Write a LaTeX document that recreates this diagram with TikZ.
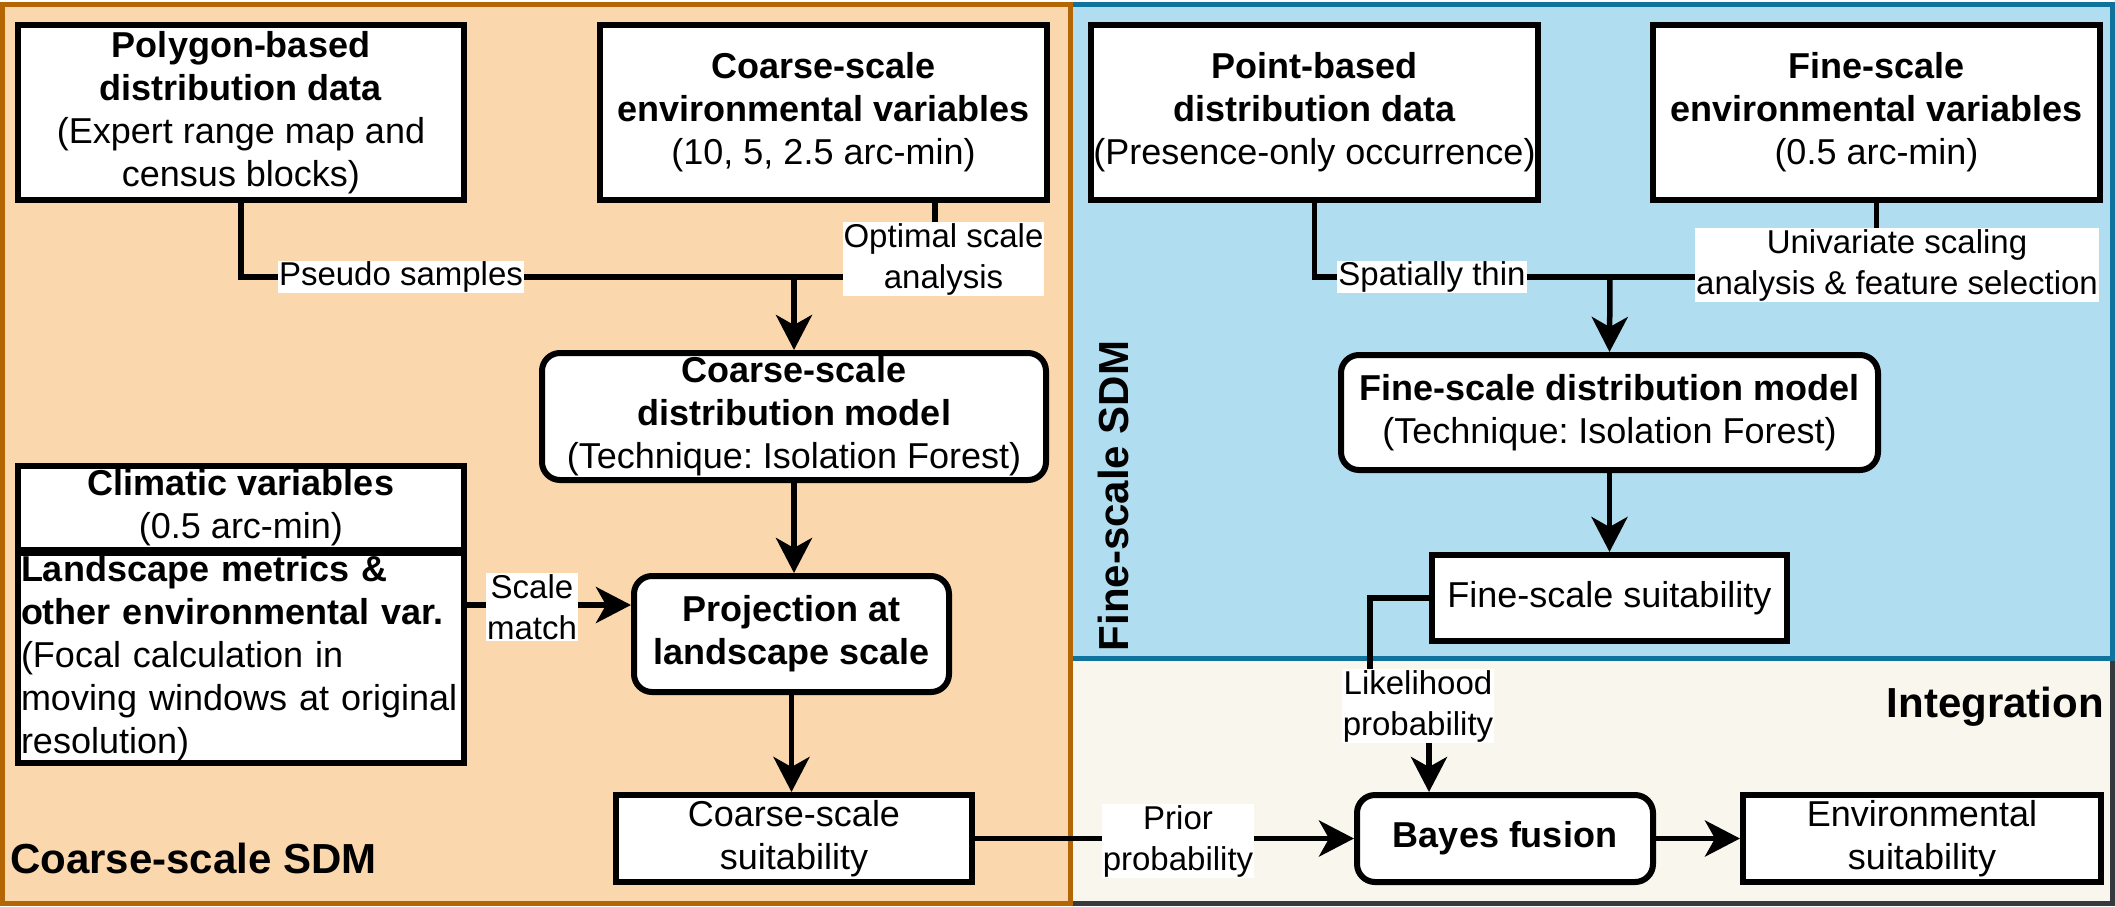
\documentclass[tikz,border=0pt]{standalone}
\usepackage{fontspec}
\setmainfont{Liberation Sans}
\usetikzlibrary{arrows.meta}
\frenchspacing
\definecolor{orfill}{HTML}{FAD7AC}
\definecolor{ordraw}{HTML}{B46504}
\definecolor{blfill}{HTML}{B1DDF0}
\definecolor{bldraw}{HTML}{10739E}
\definecolor{infill}{HTML}{F9F7ED}
\definecolor{indraw}{HTML}{36393D}
\begin{document}
\frenchspacing
\begin{tikzpicture}[x=1pt,y=-1pt,
  box/.style={draw=black, line width=6pt, fill=white, align=center, inner sep=2pt, font=\fontsize{36}{43}\selectfont},
  rbox/.style={box, rounded corners=18pt},
  lab/.style={fill=white, inner sep=1pt, align=center, font=\fontsize{33}{41}\selectfont},
  conn/.style={line width=5.5pt},
  arr/.style={conn, -{Stealth[length=35pt,width=36pt,inset=10pt]}},
  ttl/.style={inner sep=0pt, font=\fontsize{42}{50}\selectfont\bfseries},
]
\path[use as bounding box] (0,0) rectangle (2115,906);
% panels
\draw[draw=indraw, fill=infill, line width=5pt] (1070,658) rectangle (2112.5,903.5);
\draw[draw=bldraw, fill=blfill, line width=5pt] (1070,4.5) rectangle (2112.5,658);
\draw[draw=ordraw, fill=orfill, line width=5pt] (2.5,4.5) rectangle (1070,903.5);

% nodes
\node[box, minimum width=446pt, minimum height=175pt] (poly) at (241,112.5)
  {\textbf{Polygon-based}\\\textbf{distribution data}\\(Expert range map and\\census blocks)};
\node[box, minimum width=447pt, minimum height=175pt] (cenv) at (823.5,112.5)
  {\textbf{Coarse-scale}\\\textbf{environmental variables}\\(10, 5, 2.5 arc-min)};
\node[box, minimum width=447pt, minimum height=175pt] (pt) at (1314.5,112.5)
  {\textbf{Point-based}\\\textbf{distribution data}\\(Presence-only occurrence)};
\node[box, minimum width=447pt, minimum height=175pt] (fenv) at (1876.5,112.5)
  {\textbf{Fine-scale}\\\textbf{environmental variables}\\(0.5 arc-min)};
\node[rbox, minimum width=504pt, minimum height=127pt] (cmodel) at (794,416.5)
  {\textbf{Coarse-scale}\\\textbf{distribution model}\\(Technique: Isolation Forest)};
\node[rbox, minimum width=537pt, minimum height=115pt] (fmodel) at (1609.5,412.5)
  {\textbf{Fine-scale distribution model}\\(Technique: Isolation Forest)};
\node[rbox, minimum width=315pt, minimum height=116pt] (proj) at (791.5,634)
  {\textbf{Projection at}\\\textbf{landscape scale}};
\node[box, minimum width=446pt, minimum height=84pt] (clim) at (241,508)
  {\textbf{Climatic variables}\\(0.5 arc-min)};
\node[box, minimum width=446pt, minimum height=204pt, align=left, text width=440pt] (land) at (241,658)
  {\textbf{Landscape metrics \&}\\\textbf{other environmental var.}\\(Focal calculation in\\moving windows at original\\resolution)};
\node[box, minimum width=356pt, minimum height=87pt] (csuit) at (794,838.5)
  {Coarse-scale\\suitability};
\node[box, minimum width=355pt, minimum height=86pt] (fsuit) at (1609.5,598)
  {Fine-scale suitability};
\node[rbox, minimum width=296pt, minimum height=87pt] (bayes) at (1505,838.5)
  {\textbf{Bayes fusion}};
\node[box, minimum width=358pt, minimum height=87pt] (env) at (1922,838.5)
  {Environmental\\suitability};

% connectors
\coordinate (m1) at (794,277);
\coordinate (m2) at (1610,277);
\coordinate (sm) at (0,605);
\coordinate (bt) at ([xshift=-76pt]bayes.north);
\draw[conn] (poly.south) |- (m1);
\draw[conn] ([xshift=111.5pt]cenv.south) |- (m1);
\draw[arr] (m1) -- (cmodel.north);
\draw[arr] (cmodel.south) -- (cmodel.south |- proj.north);
\draw[arr] (proj.south) -- (proj.south |- csuit.north);
\draw[arr] (land.east |- sm) -- (proj.west |- sm);
\draw[arr] (csuit.east) -- (bayes.west);
\draw[conn] (pt.south) |- (m2);
\draw[conn] (fenv.south) |- (m2);
\draw[arr] (m2) -- (fmodel.north);
\draw[arr] (fmodel.south) -- (fmodel.south |- fsuit.north);
\draw[arr] (fsuit.west) -- ++(-59,0) |- (1429,706) -- (bt);
\draw[arr] (bayes.east) -- (env.west);

% labels
\node[lab] (lps) at (401,277) {Pseudo samples};
\node[lab] (los) at (943.5,259) {Optimal scale\\analysis};
\node[lab] (lsm) at (532,607) {Scale\\match};
\node[lab] (lpp) at (1178,841) {Prior\\probability};
\node[lab] (lst) at (1432,277) {Spatially thin};
\node[lab] (lus) at (1897,265) {Univariate scaling\\analysis \& feature selection};
\node[lab] (llp) at (1418,706) {Likelihood\\probability};

% titles
\node[ttl, anchor=base west] (tc) at (10,873) {Coarse-scale SDM};
\node[ttl, rotate=90] (tf) at (1113,496) {Fine-scale SDM};
\node[ttl, anchor=base east] (ti) at (2104,717) {Integration};
\end{tikzpicture}
\end{document}
